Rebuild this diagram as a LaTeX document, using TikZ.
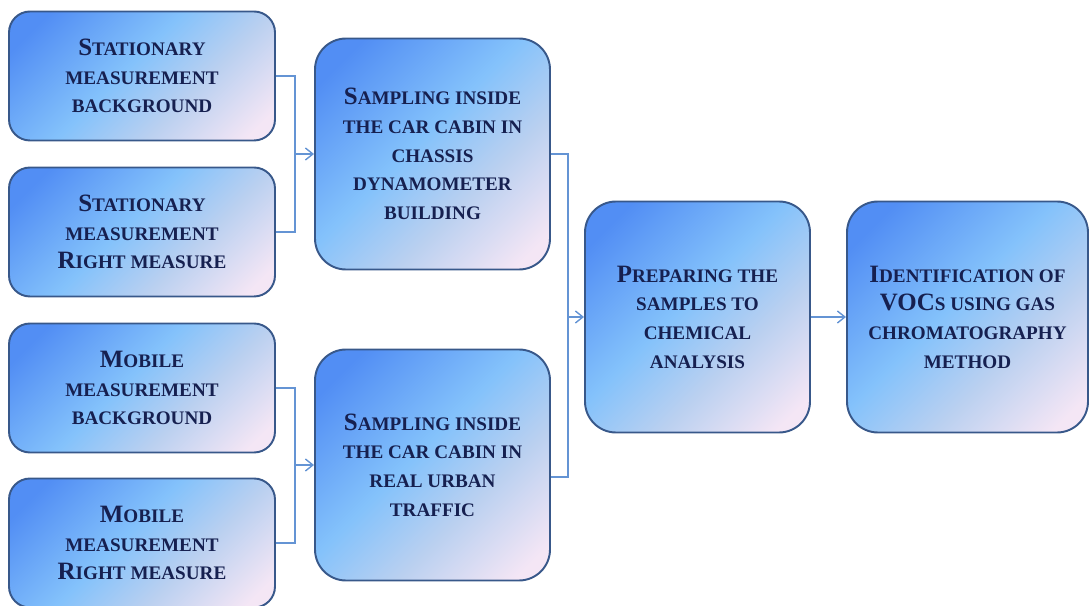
\documentclass[tikz,border=0pt]{standalone}
\usepackage{fontspec}
\setmainfont{Liberation Serif}
\usetikzlibrary{positioning,arrows.meta}

\definecolor{gradA}{RGB}{82,142,244}
\definecolor{gradB}{RGB}{132,194,251}
\definecolor{gradM}{RGB}{186,208,240}
\definecolor{gradC}{RGB}{244,230,245}
\definecolor{boxline}{RGB}{56,88,138}
\definecolor{boxtext}{RGB}{22,32,80}
\definecolor{linkcol}{RGB}{100,148,212}
\pgfdeclarehorizontalshading{boxshade}{100bp}{color(0bp)=(gradA); color(22bp)=(gradA); color(46bp)=(gradB); color(62bp)=(gradM); color(80bp)=(gradC); color(100bp)=(gradC)}
% initial letters of the fake small caps
\newcommand{\ini}[1]{{\fontsize{14.2}{17}\selectfont #1}}

\begin{document}
\begin{tikzpicture}[
      >={Straight Barb[length=1.5mm,width=2.4mm]},
      every node/.style={font=\fontsize{10.9}{16.3}\selectfont\bfseries},
      box/.style={draw=boxline,line width=1.1pt,shading=boxshade,shading angle=-45,align=center,text=boxtext,inner sep=0pt},
      sbox/.style={box,rounded corners=0.42cm,minimum width=5.32cm,minimum height=2.58cm},
      bbox/.style={box,rounded corners=0.62cm,minimum height=4.62cm},
      link/.style={draw=linkcol,line width=0.8pt},
      arr/.style={link,->}
    ]
    \useasboundingbox (0,0) rectangle (21.78,12.12);
    % measurements
    \node[sbox] (sb) at (2.84,10.6) {\ini{S}TATIONARY\\MEASUREMENT\\BACKGROUND};
    \node[sbox] (sr) at (2.84,7.48) {\ini{S}TATIONARY\\MEASUREMENT\\\ini{R}IGHT MEASURE};
    \node[sbox] (mb) at (2.84,4.36) {\ini{M}OBILE\\MEASUREMENT\\BACKGROUND};
    \node[sbox] (mr) at (2.84,1.26) {\ini{M}OBILE\\MEASUREMENT\\\ini{R}IGHT MEASURE};
    % sampling
    \node[bbox,minimum width=4.7cm] (dyno) at (8.65,9.04) {\ini{S}AMPLING INSIDE\\THE CAR CABIN IN\\CHASSIS\\DYNAMOMETER\\BUILDING};
    \node[bbox,minimum width=4.7cm] (urban) at (8.65,2.82) {\ini{S}AMPLING INSIDE\\THE CAR CABIN IN\\REAL URBAN\\TRAFFIC};
    % analysis
    \node[bbox,minimum width=4.5cm] (prep) at (13.95,5.78) {\ini{P}REPARING THE\\SAMPLES TO\\CHEMICAL\\ANALYSIS};
    \node[bbox,minimum width=4.82cm] (ident) at (19.35,5.78) {\ini{I}DENTIFICATION OF\\\ini{VOC}S USING GAS\\CHROMATOGRAPHY\\METHOD};
    % brackets
    \coordinate (j1) at (5.9,9.04);
    \coordinate (j2) at (5.9,2.82);
    \coordinate (j3) at (11.36,5.78);
    \draw[link] (sb.east) -| (j1) |- (sr.east);
    \draw[arr] (j1) -- (dyno.west);
    \draw[link] (mb.east) -| (j2) |- (mr.east);
    \draw[arr] (j2) -- (urban.west);
    \draw[link] (dyno.east) -| (j3) |- ([yshift=-0.24cm]urban.east);
    \draw[arr] (j3) -- (prep.west);
    \draw[arr] (prep) -- (ident);
  \end{tikzpicture}
\end{document}
